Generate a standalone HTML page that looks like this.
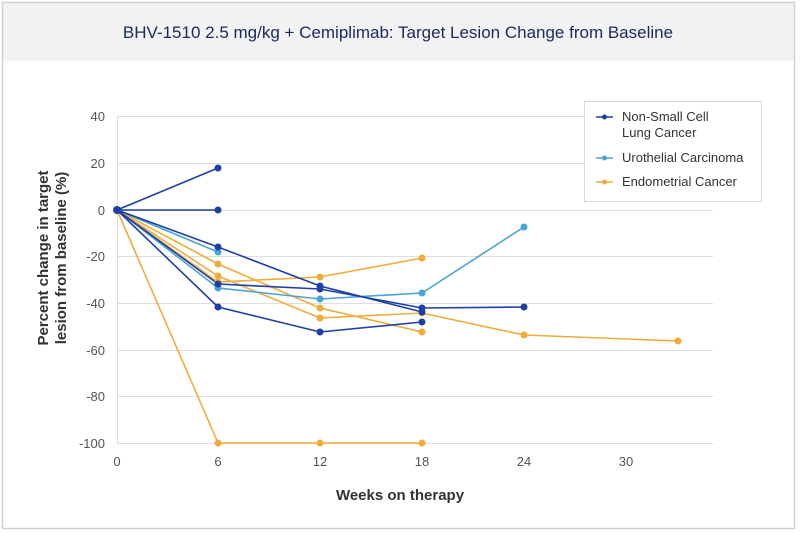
<!DOCTYPE html>
<html><head><meta charset="utf-8"><style>
body{margin:0;background:#fff;}
svg{display:block;font-family:"Liberation Sans",sans-serif;}
</style></head><body>
<svg width="800" height="534" viewBox="0 0 800 534" xmlns="http://www.w3.org/2000/svg">
<rect x="0" y="0" width="800" height="534" fill="#fff"/>
<rect x="2.5" y="2.5" width="792" height="526" fill="#fff" stroke="#d0d0d0" stroke-width="1.5"/>
<rect x="3.5" y="3.5" width="790" height="57" fill="#f2f2f2"/>
<text x="398" y="38" text-anchor="middle" font-size="17" fill="#1b2a5c">BHV-1510 2.5 mg/kg + Cemiplimab: Target Lesion Change from Baseline</text>
<g stroke="#dedede" stroke-width="1">
<line x1="117" y1="116.5" x2="713" y2="116.5"/>
<line x1="117" y1="163.5" x2="713" y2="163.5"/>
<line x1="117" y1="210.5" x2="713" y2="210.5"/>
<line x1="117" y1="256.5" x2="713" y2="256.5"/>
<line x1="117" y1="303.5" x2="713" y2="303.5"/>
<line x1="117" y1="350.5" x2="713" y2="350.5"/>
<line x1="117" y1="396.5" x2="713" y2="396.5"/>
<line x1="117" y1="443.5" x2="713" y2="443.5"/>
<line x1="117.5" y1="116" x2="117.5" y2="443"/>
</g>
<g font-size="13" fill="#555" text-anchor="end">
<text x="105" y="121">40</text><text x="105" y="168">20</text><text x="105" y="215">0</text>
<text x="105" y="261">-20</text><text x="105" y="308">-40</text><text x="105" y="355">-60</text>
<text x="105" y="401">-80</text><text x="105" y="448">-100</text>
</g>
<g font-size="13" fill="#555" text-anchor="middle">
<text x="117" y="466">0</text><text x="218" y="466">6</text><text x="320" y="466">12</text>
<text x="422" y="466">18</text><text x="524" y="466">24</text><text x="626" y="466">30</text>
</g>
<text x="400" y="500" text-anchor="middle" font-size="15" font-weight="bold" fill="#333">Weeks on therapy</text>
<g transform="translate(52,258) rotate(-90)" font-size="15" font-weight="bold" fill="#333" text-anchor="middle">
<text x="0" y="-4">Percent change in target</text>
<text x="0" y="14">lesion from baseline (%)</text>
</g>
<g fill="none" stroke-width="1.6">
<!-- Endometrial -->
<g stroke="#f0ab3a">
<polyline points="117,210 218,264 320,308 422,332"/>
<polyline points="117,210 218,276 320,318 422,313 524,335 678,341"/>
<polyline points="117,210 218,282 320,277 422,258"/>
<polyline points="117,210 218,443 320,443 422,443"/>
</g>
<!-- Urothelial -->
<g stroke="#4aa3d8">
<polyline points="117,210 218,252"/>
<polyline points="117,210 218,288 320,299 422,293 524,227"/>
</g>
<!-- NSCLC -->
<g stroke="#1e3fa6">
<polyline points="117,210 218,168"/>
<polyline points="117,210 218,210"/>
<polyline points="117,210 218,247 320,286 422,312"/>
<polyline points="117,210 218,284 320,289 422,308 524,307"/>
<polyline points="117,210 218,307 320,332 422,322"/>
</g>
</g>
<g fill="#f0ab3a">
<circle cx="218" cy="264" r="3.5"/><circle cx="320" cy="308" r="3.5"/><circle cx="422" cy="332" r="3.5"/>
<circle cx="218" cy="276" r="3.5"/><circle cx="320" cy="318" r="3.5"/><circle cx="422" cy="313" r="3.5"/><circle cx="524" cy="335" r="3.5"/><circle cx="678" cy="341" r="3.5"/>
<circle cx="218" cy="282" r="3.5"/><circle cx="320" cy="277" r="3.5"/><circle cx="422" cy="258" r="3.5"/>
<circle cx="218" cy="443" r="3.5"/><circle cx="320" cy="443" r="3.5"/><circle cx="422" cy="443" r="3.5"/>
</g>
<g fill="#4aa3d8">
<circle cx="218" cy="252" r="3.5"/><circle cx="218" cy="288" r="3.5"/><circle cx="320" cy="299" r="3.5"/><circle cx="422" cy="293" r="3.5"/><circle cx="524" cy="227" r="3.5"/>
</g>
<g fill="#1e3fa6">
<circle cx="117" cy="210" r="4"/>
<circle cx="218" cy="168" r="3.5"/><circle cx="218" cy="210" r="3.5"/>
<circle cx="218" cy="247" r="3.5"/><circle cx="320" cy="286" r="3.5"/><circle cx="422" cy="312" r="3.5"/>
<circle cx="218" cy="284" r="3.5"/><circle cx="320" cy="289" r="3.5"/><circle cx="422" cy="308" r="3.5"/><circle cx="524" cy="307" r="3.5"/>
<circle cx="218" cy="307" r="3.5"/><circle cx="320" cy="332" r="3.5"/><circle cx="422" cy="322" r="3.5"/>
</g>
<!-- legend -->
<rect x="584.5" y="101.5" width="177" height="100" fill="#fff" stroke="#d8d8d8" stroke-width="1"/>
<line x1="596" y1="117" x2="613" y2="117" stroke="#1e3fa6" stroke-width="1.6"/><circle cx="604.5" cy="117" r="2.5" fill="#1e3fa6"/>
<line x1="596" y1="158" x2="613" y2="158" stroke="#4aa3d8" stroke-width="1.6"/><circle cx="604.5" cy="158" r="2.5" fill="#4aa3d8"/>
<line x1="596" y1="182" x2="613" y2="182" stroke="#f0ab3a" stroke-width="1.6"/><circle cx="604.5" cy="182" r="2.5" fill="#f0ab3a"/>
<g font-size="13" fill="#333">
<text x="622" y="121">Non-Small Cell</text>
<text x="622" y="137">Lung Cancer</text>
<text x="622" y="162">Urothelial Carcinoma</text>
<text x="622" y="186">Endometrial Cancer</text>
</g>
</svg>
</body></html>
